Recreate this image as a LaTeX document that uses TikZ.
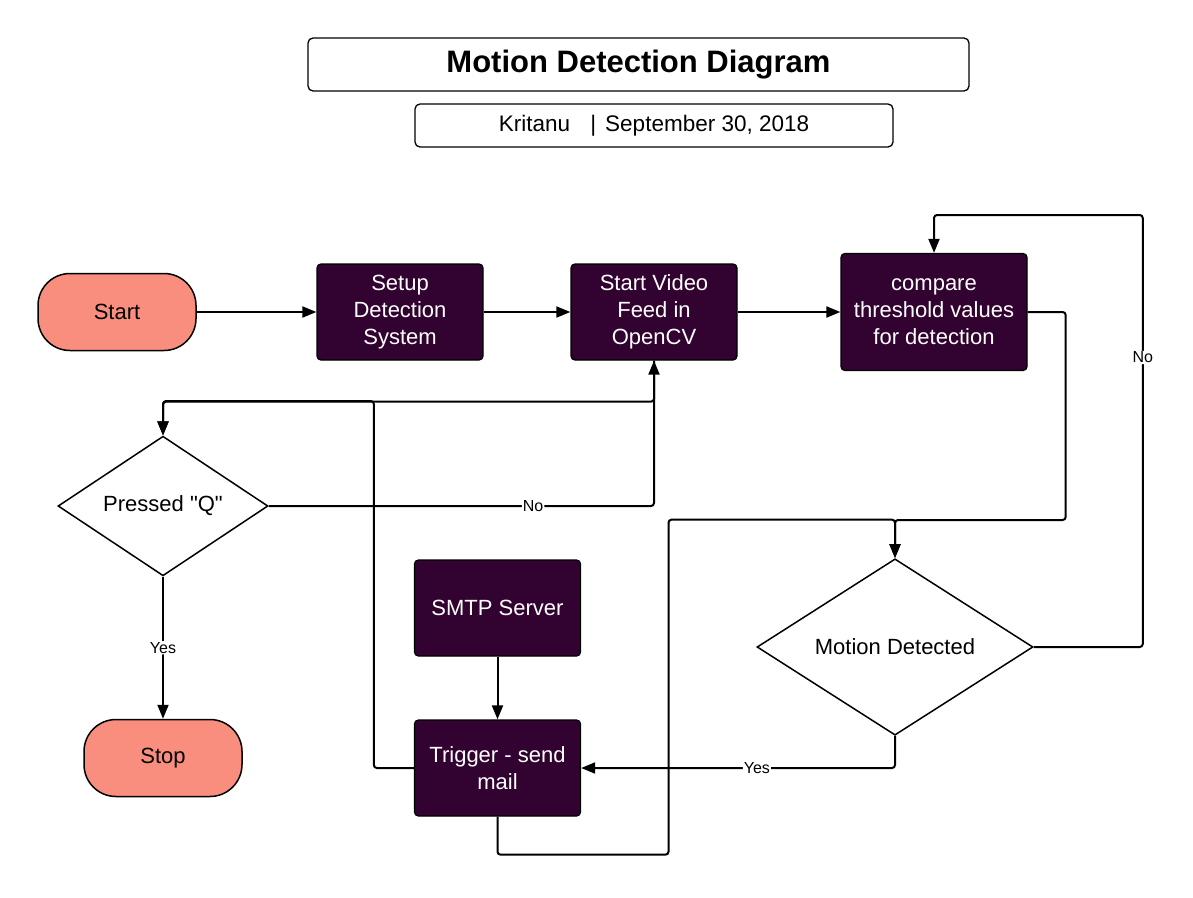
\documentclass[tikz,border=0pt]{standalone}
\usepackage{fontspec}
\setmainfont{Liberation Sans}
\newfontfamily\rawfont{Liberation Sans}
\usetikzlibrary{arrows.meta,shapes.geometric}
\definecolor{procfill}{RGB}{50,3,48}
\definecolor{termfill}{RGB}{250,142,126}
\tikzset{
  process/.style={draw=black,line width=1.3pt,fill=procfill,text=white,rounded corners=4pt,
    minimum width=166pt,minimum height=96pt,align=center,font=\fontsize{22}{27}\selectfont},
  terminal/.style={draw=black,line width=1.5pt,fill=termfill,rounded corners=32pt,
    minimum width=158pt,minimum height=77pt,font=\fontsize{22}{27}\selectfont},
  decision/.style={draw=black,line width=1.5pt,diamond,inner sep=0pt,fill=white,
    font=\fontsize{22}{27}\selectfont},
  heading/.style={draw=black,line width=1.3pt,rounded corners=5pt},
  line/.style={line width=2pt,rounded corners=3pt,-{Triangle[length=14pt,width=11pt]}},
  answer/.style={fill=white,inner sep=1pt,font=\fontsize{16}{18}\selectfont}
}
\begin{document}
\begin{tikzpicture}[x=1pt,y=-1pt]
		\useasboundingbox (0,0) rectangle (1193,897);
		%title and author
		\node [heading,minimum width=661pt,minimum height=53pt,font=\fontsize{31}{36}\selectfont\bfseries] (title) at (638.5,64.5) {Motion Detection Diagram};
		\node [heading,minimum width=478pt,minimum height=43pt,font=\fontsize{22.5}{26}\selectfont] (author) at (654,125.5) {Kritanu\hspace{0.9em}|\hspace{0.4em}September 30, 2018};
		%top row
		\node [terminal] (start) at (117,312) {Start};
		\node [process] (setup) at (400,312) {Setup\\Detection\\System};
		\node [process] (video) at (654,312) {Start Video\\Feed in\\OpenCV};
		\node [process,minimum width=186pt,minimum height=117pt] (compare) at (934,312) {compare\\threshold values\\for detection};
		%decisions
		\node [decision,minimum width=210pt,minimum height=132pt] (pressq) at (163,506) {\rawfont Pressed "Q"};
		\node [decision,minimum width=276pt,minimum height=175pt] (motion) at (895,647) {Motion Detected};
		\node [terminal] (stop) at (163,758) {Stop};
		%mail
		\node [process] (smtp) at (497.5,608) {SMTP Server};
		\node [process] (trigger) at (497.5,768) {Trigger - send\\mail};
		%connectors
		\draw [line] (start) -- (setup);
		\draw [line] (setup) -- (video);
		\draw [line] (video) -- (compare);
		\draw [line] (compare.east) -- ++(38,0) -- ++(0,208) -| (motion.north);
		\draw [line] (trigger.south) -- ++(0,38) -- ++(171,0) -- ++(0,-335) -| (motion.north);
		\draw [line] (motion.east) -- ++(109,0) -- node[answer,pos=0.67] {No} ++(0,-432) -| (compare.north);
		\draw [line] (motion.south) |- node[answer,pos=0.72] {Yes} (trigger.east);
		\draw [line] (smtp) -- (trigger);
		\draw [line] (trigger.west) -- ++(-40,0) -- ++(0,-367) -| (pressq.north);
		\draw [line] (video.south) -- ++(0,41) -| (pressq.north);
		\draw [line] (pressq.east) -| node[answer,pos=0.343] {No} (video.south);
		\draw [line] (pressq.south) -- node[answer] {Yes} (stop.north);
\end{tikzpicture}
\end{document}
